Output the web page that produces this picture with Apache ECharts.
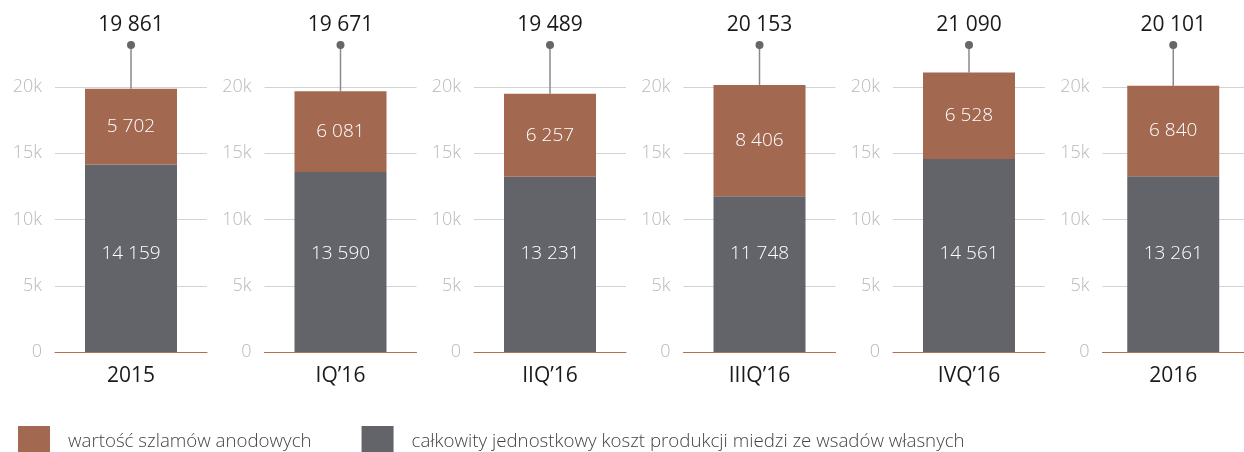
<!DOCTYPE html>
<html>
<head>
<meta charset="utf-8">
<script src="https://cdn.jsdelivr.net/npm/echarts@6/dist/echarts.min.js"></script>
<style>html,body{margin:0;padding:0;background:#fff}#c{width:1244px;height:452px}</style>
</head>
<body>
<div id="c"></div>
<script>
const categories = ['2015', 'IQ\u201916', 'IIQ\u201916', 'IIIQ\u201916', 'IVQ\u201916', '2016'];
const costValues = [14159, 13590, 13231, 11748, 14561, 13261];
const slimeValues = [5702, 6081, 6257, 8406, 6528, 6840];
const totalValues = [19861, 19671, 19489, 20153, 21090, 20101];
const yTicks = [0, 5000, 10000, 15000, 20000];
const seriesNames = ['wartość szlamów anodowych', 'całkowity jednostkowy koszt produkcji miedzi ze wsadów własnych'];

const FONT = '"Open Sans", sans-serif';
const BROWN = '#a26950';
const GREY = '#636469';
const fmt = v => String(v).replace(/\B(?=(\d{3})+(?!\d))/g, ' ');
const kfmt = v => v === 0 ? '0' : (v / 1000) + 'k';

const chart = echarts.init(document.getElementById('c'), null, {renderer: 'canvas'});
const grids = [], xAxes = [], yAxes = [], series = [];
categories.forEach((cat, i) => {
  grids.push({left: 55 + 209.5 * i, width: 152, top: 87, height: 265, containLabel: false});
  xAxes.push({
    type: 'category', gridIndex: i, data: [cat],
    axisLine: {lineStyle: {color: '#bb6c4c', width: 1}},
    axisTick: {show: false},
    axisLabel: {color: '#1a1a1a', fontSize: 21, fontFamily: FONT, margin: 14}
  });
  yAxes.push({
    type: 'value', gridIndex: i, min: yTicks[0], max: yTicks[yTicks.length - 1], interval: yTicks[1] - yTicks[0],
    axisLine: {show: false}, axisTick: {show: false},
    axisLabel: {color: '#b9b9b9', fontSize: 18, fontWeight: 300, fontFamily: FONT, margin: 13, formatter: kfmt},
    splitLine: {lineStyle: {color: '#d3d3d3', width: 1}}
  });
  series.push({
    name: seriesNames[1], type: 'bar', xAxisIndex: i, yAxisIndex: i, stack: 's' + i,
    barWidth: 92, clip: false, data: [costValues[i]],
    itemStyle: {color: GREY},
    label: {show: true, position: 'insideBottom', distance: 89, color: '#fff', fontSize: 19, fontWeight: 300, fontFamily: FONT, formatter: p => fmt(p.value)}
  });
  series.push({
    name: seriesNames[0], type: 'bar', xAxisIndex: i, yAxisIndex: i, stack: 's' + i,
    barWidth: 92, clip: false, data: [slimeValues[i]],
    itemStyle: {color: BROWN},
    label: {show: true, position: 'inside', color: '#fff', fontSize: 19, fontWeight: 300, fontFamily: FONT, formatter: p => fmt(p.value)}
  });
  series.push({
    type: 'custom', xAxisIndex: i, yAxisIndex: i, clip: false, silent: true,
    data: [[0, totalValues[i]]],
    renderItem: (params, api) => {
      const pt = api.coord([api.value(0), api.value(1)]);
      const gy = params.coordSys.y;
      const dotY = gy - 42;
      return {type: 'group', children: [
        {type: 'line', shape: {x1: pt[0], y1: pt[1], x2: pt[0], y2: dotY}, style: {stroke: '#8a8a8e', lineWidth: 1.5}},
        {type: 'circle', shape: {cx: pt[0], cy: dotY, r: 4}, style: {fill: '#66676b'}},
        {type: 'text', x: pt[0], y: gy - 62, style: {text: fmt(api.value(1)), fill: '#1a1a1a', font: '21px ' + FONT, align: 'center', verticalAlign: 'middle'}}
      ]};
    }
  });
});

chart.setOption({
  animation: false,
  color: [GREY, BROWN],
  grid: grids, xAxis: xAxes, yAxis: yAxes, series: series,
  legend: {
    left: 13, top: 421, itemWidth: 32, itemHeight: 31, itemGap: 50,
    icon: 'rect',
    data: [{name: seriesNames[0], itemStyle: {color: BROWN}}, {name: seriesNames[1], itemStyle: {color: GREY}}],
    textStyle: {color: '#444', fontSize: 18.7, fontWeight: 300, fontFamily: FONT, padding: [0, 0, 0, 13]},
    selectedMode: false
  }
});
</script>
</body>
</html>
